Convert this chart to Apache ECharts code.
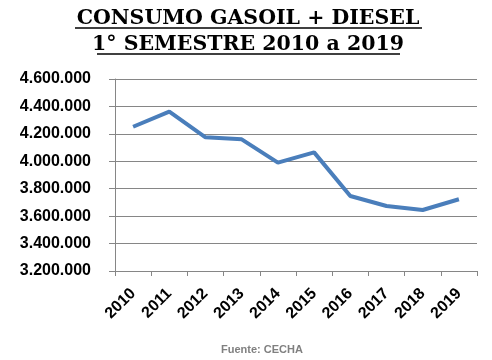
<!DOCTYPE html>
<html><head><meta charset="utf-8">
<script src="https://cdn.jsdelivr.net/npm/echarts@6/dist/echarts.min.js"></script>
<style>html,body{margin:0;padding:0;background:#fff}#c{width:492px;height:360px}</style>
</head><body><div id="c"></div>
<script>
const years = ['2010','2011','2012','2013','2014','2015','2016','2017','2018','2019'];
const consumo = [4252000, 4362000, 4175000, 4160000, 3990000, 4065000, 3747000, 3674000, 3645000, 3723000];
const titleLines = ['CONSUMO GASOIL + DIESEL', '1° SEMESTRE 2010 a 2019'];
const sourceText = 'Fuente: CECHA';

function fmt(v){ return String(v).replace(/\B(?=(\d{3})+(?!\d))/g, '.'); }

const chart = echarts.init(document.getElementById('c'));
const titleFont = 'bold 20.5px "DejaVu Serif"';
chart.setOption({
  animation: false,
  backgroundColor: '#fff',
  graphic: [
    { type: 'text', x: 248, y: 29.5, style: { text: titleLines[0], font: titleFont, fill: '#000', align: 'center', verticalAlign: 'bottom' } },
    { type: 'text', x: 248, y: 55.5, style: { text: titleLines[1], font: titleFont, fill: '#000', align: 'center', verticalAlign: 'bottom' } },
    { type: 'line', shape: { x1: 75, y1: 28, x2: 422, y2: 28 }, style: { stroke: '#000', lineWidth: 1.5 } },
    { type: 'line', shape: { x1: 97, y1: 54, x2: 400, y2: 54 }, style: { stroke: '#000', lineWidth: 1.5 } },
    { type: 'text', x: 262, y: 350, style: { text: sourceText, font: 'bold 11px "Liberation Sans"', fill: '#808080', align: 'center', verticalAlign: 'middle' } }
  ],
  grid: { left: 115, right: 15, top: 79, bottom: 89 },
  xAxis: {
    type: 'category', data: years, boundaryGap: true,
    axisLine: { lineStyle: { color: '#868686', width: 1 } },
    axisTick: { show: true, length: 5, lineStyle: { color: '#868686' } },
    axisLabel: { rotate: 45, margin: 20, color: '#000', fontFamily: 'Liberation Sans', fontWeight: 'bold', fontSize: 16 }
  },
  yAxis: {
    type: 'value', min: 3200000, max: 4600000, interval: 200000,
    axisLine: { show: true, lineStyle: { color: '#868686', width: 1 } },
    axisTick: { show: true, length: 6, lineStyle: { color: '#868686' } },
    splitLine: { show: true, lineStyle: { color: '#868686', width: 1 } },
    axisLabel: { formatter: fmt, margin: 24, color: '#000', fontFamily: 'Liberation Sans', fontWeight: 'bold', fontSize: 16 }
  },
  series: [{
    type: 'line', data: consumo, showSymbol: false, symbol: 'none',
    lineStyle: { color: '#4A7EBB', width: 4 }
  }]
});
</script></body></html>
